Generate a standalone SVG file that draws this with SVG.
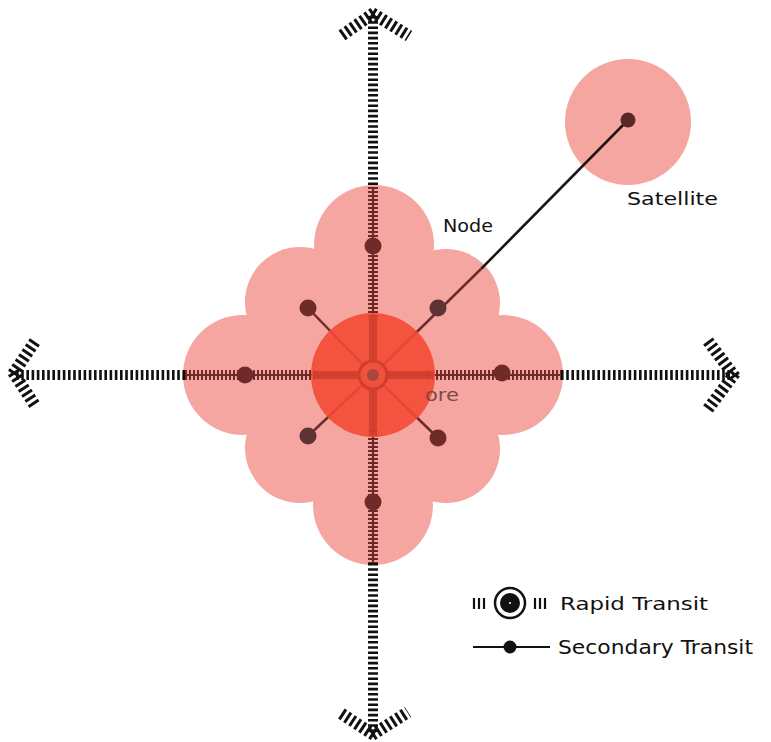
<svg xmlns="http://www.w3.org/2000/svg" width="771" height="742" viewBox="0 0 771 742">
<defs>
<style>
.cloud{fill:#f6a6a1}
.rapidOut{stroke:#111;stroke-width:10;stroke-dasharray:2.6 2.6;fill:none}
.rapidIn{stroke:#6e2a27;stroke-width:10;stroke-dasharray:2 2;fill:none}
.spine{stroke:#6e2a27;stroke-width:2.2;fill:none}
.arm{stroke:#111;stroke-width:12;stroke-dasharray:3 3;fill:none}
.sec{stroke:#6e2c28;stroke-width:2.5;fill:none}
.secOut{stroke:#1a1414;stroke-width:2.5;fill:none}
.station{fill:#6e2b29}
.lbl{font-family:"DejaVu Sans","Liberation Sans",sans-serif;fill:#111}
</style>
</defs>
<rect width="771" height="742" fill="#fff"/>

<g id="node-cloud">
<circle class="cloud" cx="373" cy="375" r="105"/>
<circle class="cloud" cx="374" cy="245" r="60"/>
<circle class="cloud" cx="373" cy="505" r="60"/>
<circle class="cloud" cx="243" cy="375" r="60"/>
<circle class="cloud" cx="503" cy="375" r="60"/>
<circle class="cloud" cx="300" cy="302" r="55"/>
<circle class="cloud" cx="446" cy="303" r="54"/>
<circle class="cloud" cx="300" cy="448" r="55"/>
<circle class="cloud" cx="446" cy="449" r="54"/>
</g>

<g id="node-satellite">
<circle class="cloud" cx="628" cy="122" r="63"/>
</g>

<g id="connectors">
<!-- rapid transit, outside the node -->
<line class="rapidOut" x1="373" y1="16" x2="373" y2="187"/>
<line class="rapidOut" x1="373" y1="563" x2="373" y2="732"/>
<line class="rapidOut" x1="16" y1="375" x2="185" y2="375"/>
<line class="rapidOut" x1="561" y1="375" x2="732" y2="375"/>
<!-- arrowheads -->
<line class="arm" x1="374" y1="13" x2="341" y2="36"/>
<line class="arm" x1="372" y1="13" x2="409" y2="36"/>
<line class="arm" x1="374" y1="735" x2="339" y2="712"/>
<line class="arm" x1="372" y1="735" x2="408" y2="712"/>
<line class="arm" x1="13" y1="374" x2="36" y2="340"/>
<line class="arm" x1="13" y1="372" x2="36" y2="407"/>
<line class="arm" x1="735" y1="377" x2="708" y2="341"/>
<line class="arm" x1="735" y1="373" x2="708" y2="409"/>
<!-- rapid transit, inside the node -->
<line class="rapidIn" x1="373" y1="187" x2="373" y2="320"/>
<line class="rapidIn" x1="373" y1="430" x2="373" y2="563"/>
<line class="rapidIn" x1="185" y1="375" x2="318" y2="375"/>
<line class="rapidIn" x1="428" y1="375" x2="561" y2="375"/>
<line class="spine" x1="373" y1="187" x2="373" y2="563"/>
<line class="spine" x1="185" y1="375" x2="561" y2="375"/>
<!-- secondary transit -->
<line class="sec" x1="373" y1="375" x2="308" y2="308"/>
<line class="sec" x1="373" y1="375" x2="308" y2="436"/>
<line class="sec" x1="373" y1="375" x2="438" y2="438"/>
<line class="sec" x1="373" y1="375" x2="483" y2="267"/>
<line class="secOut" x1="482" y1="268" x2="628" y2="120"/>
</g>

<g id="node-core">
<circle cx="373" cy="375" r="62" fill="#f34a34" fill-opacity="0.9"/>
<line x1="373" y1="315" x2="373" y2="435" stroke="#c63a2b" stroke-width="8" stroke-opacity="0.7"/>
<line x1="313" y1="375" x2="433" y2="375" stroke="#c63a2b" stroke-width="8" stroke-opacity="0.7"/>
<circle cx="373" cy="375" r="14" fill="#f0503c" stroke="#cf3e2e" stroke-width="3"/>
<circle cx="373" cy="375" r="6" fill="#a8483c"/>
<text x="425" y="401" class="lbl" font-size="18" style="fill:#7f4842" textLength="34" lengthAdjust="spacingAndGlyphs">ore</text>
</g>

<g id="stations">
<circle class="station" cx="373" cy="246" r="8.5"/>
<circle class="station" cx="373" cy="502" r="8.5"/>
<circle class="station" cx="245" cy="375" r="8.5"/>
<circle class="station" cx="502" cy="373" r="8.5"/>
<circle class="station" cx="308" cy="308" r="8.5"/>
<circle class="station" cx="438" cy="308" r="8.5" style="fill:#5e3336"/>
<circle class="station" cx="308" cy="436" r="8.5" style="fill:#5e3336"/>
<circle class="station" cx="438" cy="438" r="8.5"/>
<circle class="station" cx="628" cy="120" r="7.5" style="fill:#5a2828"/>
</g>

<g id="labels">
<text x="443" y="232" class="lbl" font-size="17" textLength="50" lengthAdjust="spacingAndGlyphs">Node</text>
<text x="627" y="205" class="lbl" font-size="18" textLength="91" lengthAdjust="spacingAndGlyphs">Satellite</text>
</g>

<g id="legend">
<g id="legend-rapid">
<line x1="474" y1="598" x2="474" y2="609" stroke="#111" stroke-width="2.2"/>
<line x1="479" y1="598" x2="479" y2="609" stroke="#111" stroke-width="2.2"/>
<line x1="484" y1="598" x2="484" y2="609" stroke="#111" stroke-width="2.2"/>
<line x1="535" y1="598" x2="535" y2="609" stroke="#111" stroke-width="2.2"/>
<line x1="540" y1="598" x2="540" y2="609" stroke="#111" stroke-width="2.2"/>
<line x1="545" y1="598" x2="545" y2="609" stroke="#111" stroke-width="2.2"/>
<circle cx="510" cy="603" r="15" fill="#fff" stroke="#111" stroke-width="2.5"/>
<circle cx="510" cy="603" r="10" fill="#111"/>
<circle cx="510" cy="603" r="1" fill="#fff"/>
<text x="560" y="610" class="lbl" font-size="17" textLength="148" lengthAdjust="spacingAndGlyphs">Rapid  Transit</text>
</g>
<g id="legend-secondary">
<line x1="473" y1="647" x2="550" y2="647" stroke="#111" stroke-width="2"/>
<circle cx="510" cy="647" r="6.5" fill="#111"/>
<text x="558" y="654" class="lbl" font-size="19" textLength="195" lengthAdjust="spacingAndGlyphs">Secondary Transit</text>
</g>
</g>
</svg>
